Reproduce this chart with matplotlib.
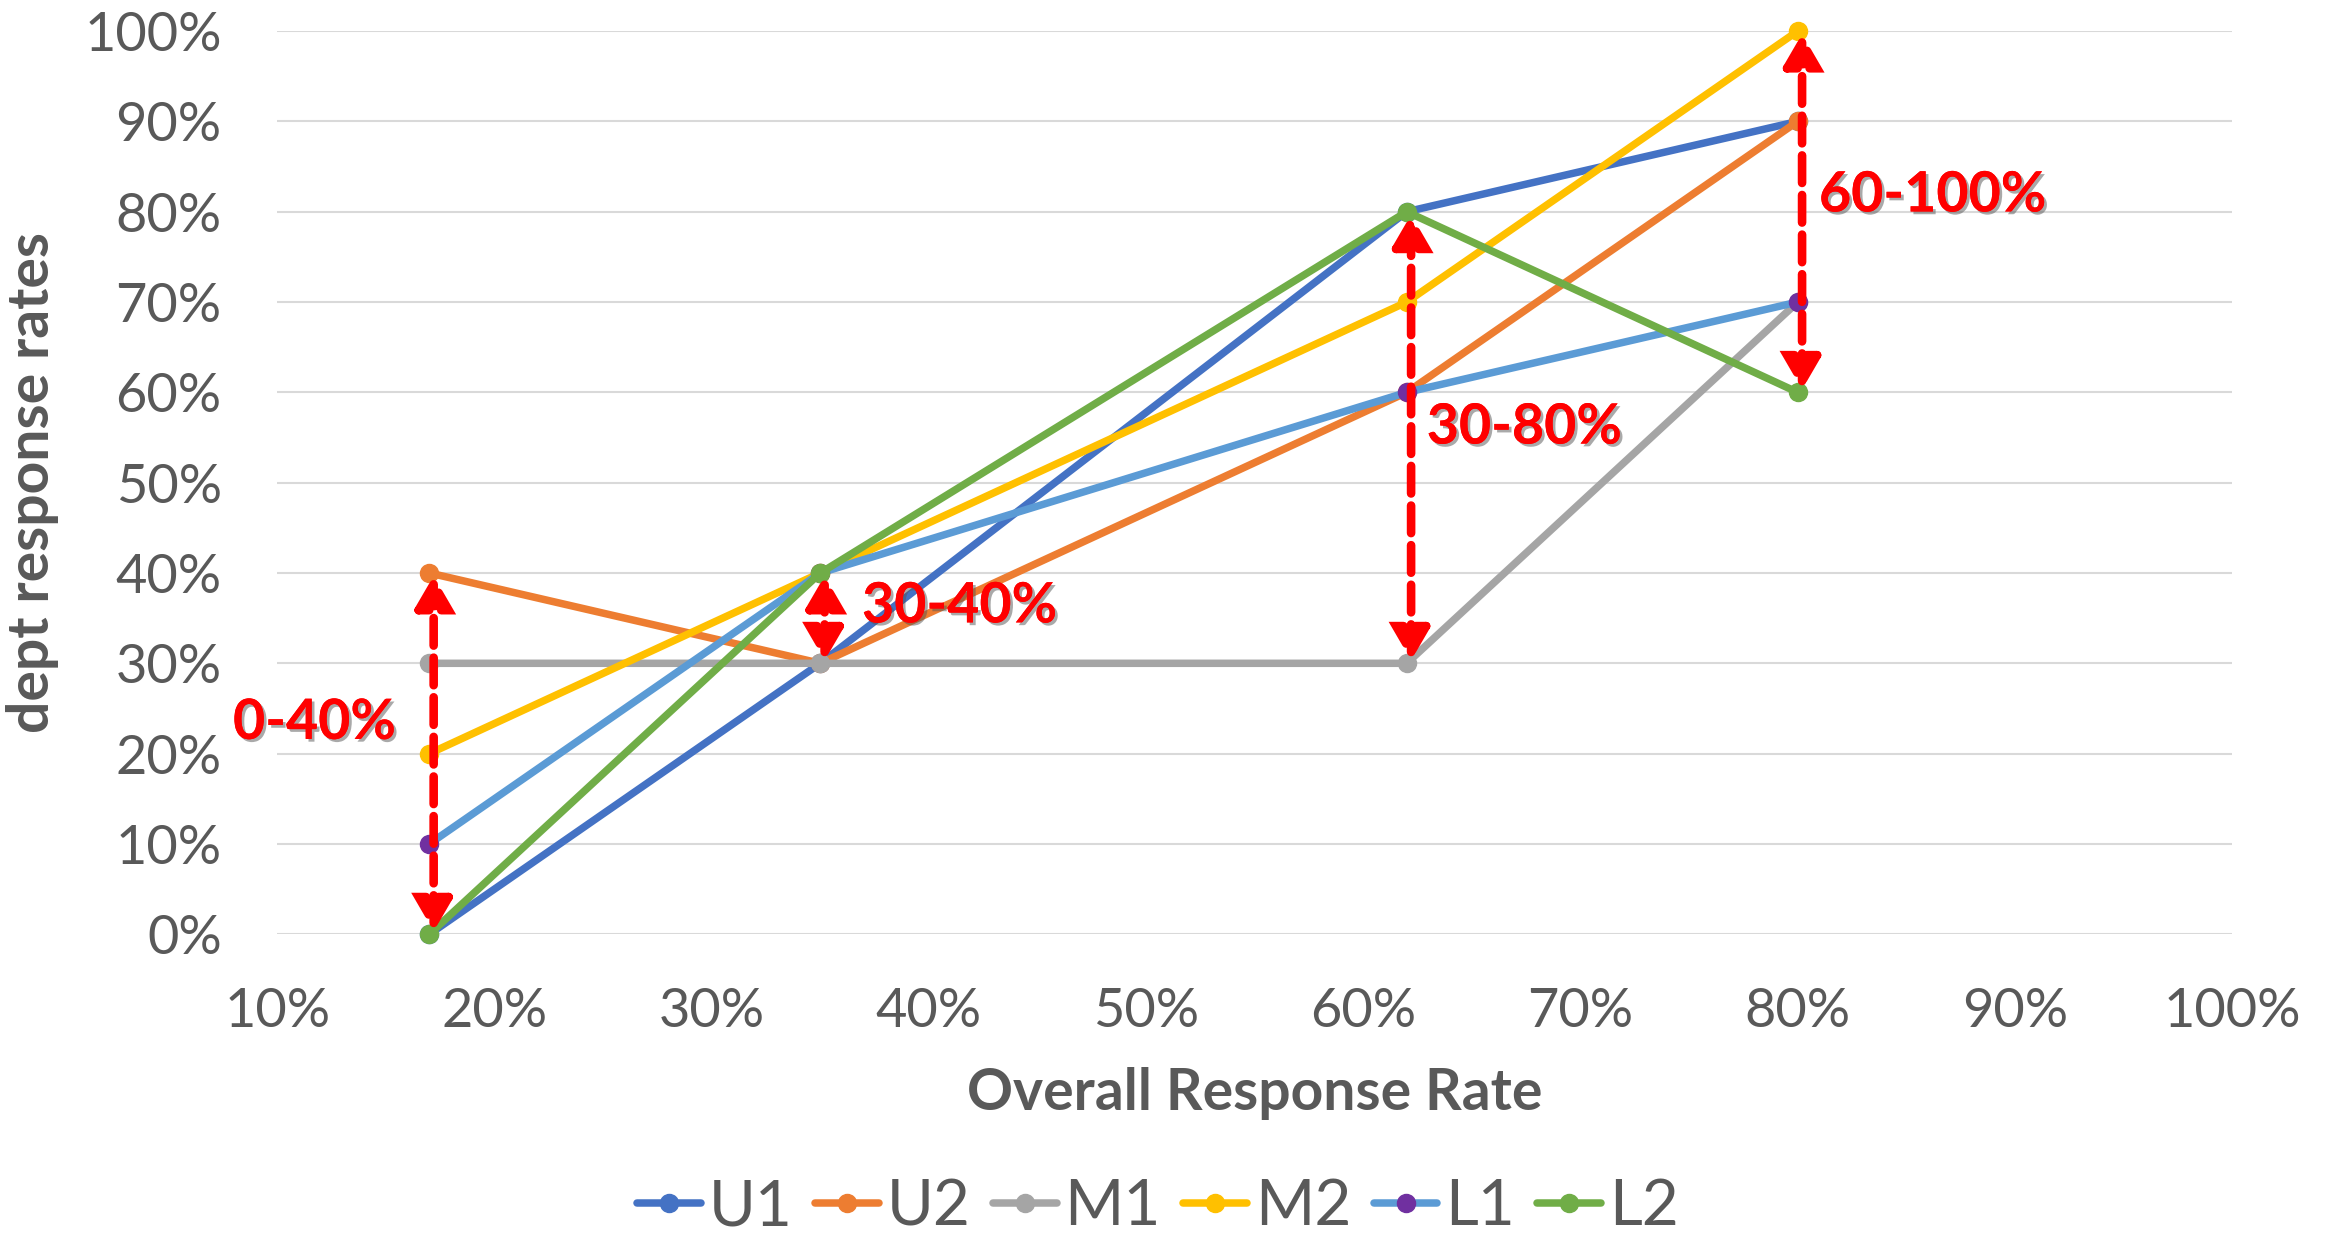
import matplotlib
matplotlib.use("Agg")
from matplotlib import pyplot as plt
from matplotlib.ticker import FuncFormatter
import matplotlib.patheffects as pe

# data
overall = [17, 35, 62, 80]
names = ['U1', 'U2', 'M1', 'M2', 'L1', 'L2']
u1 = [0, 30, 80, 90]
u2 = [40, 30, 60, 90]
m1 = [30, 30, 30, 70]
m2 = [20, 40, 70, 100]
l1 = [10, 40, 60, 70]
l2 = [0, 40, 80, 60]
series = [u1, u2, m1, m2, l1, l2]

line_colors = ['#4472C4', '#ED7D31', '#A5A5A5', '#FFC000', '#5B9BD5', '#70AD47']
marker_colors = ['#4472C4', '#ED7D31', '#A5A5A5', '#FFC000', '#7030A0', '#70AD47']

# ranges marked with red arrows: (x, low, high)
ranges = [(17, 0, 40), (35, 30, 40), (62, 30, 80), (80, 60, 100)]
range_labels = ['0-40%', '30-40%', '30-80%', '60-100%']
label_pos = [(11.7, 23.4), (41.4, 36.3), (67.4, 56.1), (86.2, 81.8)]

plt.rcParams['font.family'] = ['Lato', 'DejaVu Sans']
grey = '#595959'

fig = plt.figure(figsize=(23.3, 12.44), dpi=100)
ax = fig.add_axes([0.119, 0.249, 0.839, 0.726])

for vals, name, lc, mc in zip(series, names, line_colors, marker_colors):
    ax.plot(overall, vals, color=lc, lw=5.4, marker='o', markersize=13,
            markerfacecolor=mc, markeredgecolor=mc, label=name,
            solid_capstyle='round')

for (x, lo, hi), txt, (tx, ty) in zip(ranges, range_labels, label_pos):
    ax.annotate('', xy=(x + 0.2, hi), xytext=(x + 0.2, lo),
                arrowprops=dict(arrowstyle='<|-|>,head_length=0.62,head_width=0.36',
                                color='#FF0000', lw=6.2, joinstyle='miter',
                                linestyle=(0, (3.2, 1.4)), mutation_scale=30,
                                shrinkA=2, shrinkB=2),
                zorder=10)
    ax.text(tx, ty, txt, color='#FF0000', fontsize=40, fontweight='bold',
            ha='center', va='center', zorder=11,
            path_effects=[pe.withSimplePatchShadow(offset=(2, -2), shadow_rgbFace='#555555', alpha=0.5),
                          pe.Normal()])

ax.set_xlim(10, 100)
ax.set_ylim(0, 100)
ax.set_xticks(range(10, 101, 10))
ax.set_yticks(range(0, 101, 10))
pct = FuncFormatter(lambda v, p: '%d%%' % v)
ax.xaxis.set_major_formatter(pct)
ax.yaxis.set_major_formatter(pct)
ax.tick_params(axis='both', length=0, labelsize=39, labelcolor=grey)
ax.tick_params(axis='y', pad=40)
ax.tick_params(axis='x', pad=38)
ax.grid(axis='y', color='#D9D9D9', lw=1.5)
ax.set_axisbelow(True)
for s in ax.spines.values():
    s.set_visible(False)
for ln in ax.lines:
    ln.set_clip_on(False)

ax.set_xlabel('Overall Response Rate', fontsize=41, fontweight='bold', color=grey, labelpad=22)
ax.set_ylabel('dept response rates', fontsize=41, fontweight='bold', color=grey, labelpad=18)

fig.legend(loc='lower center', bbox_to_anchor=(0.497, -0.04), ncol=6, frameon=False,
           fontsize=46, labelcolor=grey, handlelength=1.0, columnspacing=0.35,
           handletextpad=0.12)

fig.savefig('out.png', dpi=100)
